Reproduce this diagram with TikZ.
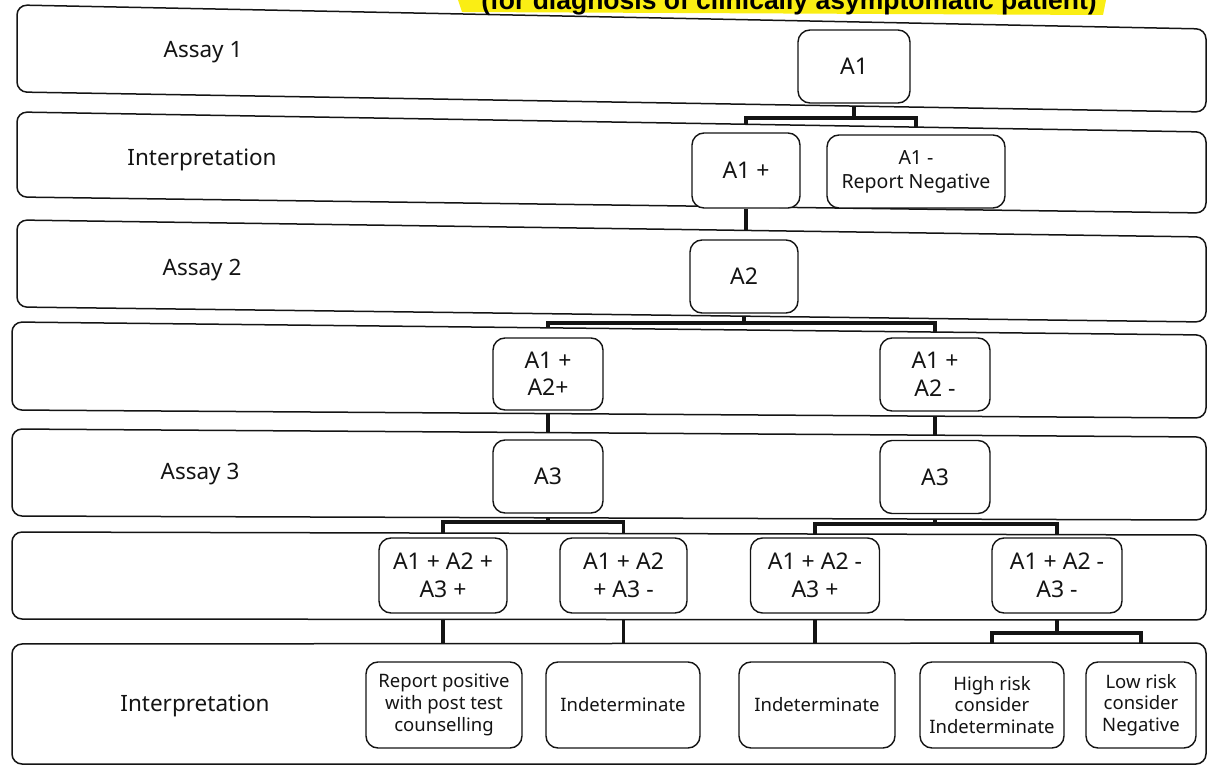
\documentclass[tikz,border=0pt]{standalone}
\usepackage{fontspec}
\setmainfont{Noto Sans}
\newfontfamily\hdrfont{Liberation Sans}
\pgfdeclarelayer{connlayer}
\pgfdeclarelayer{lanelayer}
\pgfsetlayers{connlayer,lanelayer,main}
\definecolor{hlyellow}{RGB}{250,238,20}
\definecolor{ink}{RGB}{20,20,20}
\begin{document}
\begin{tikzpicture}[x=1pt,y=-1pt,
  lane/.style={draw=ink, line width=1.5pt, rounded corners=10pt, fill=white},
  lanelabel/.style={font=\fontsize{22.5}{27}\selectfont, text=ink},
  box/.style={draw=ink, line width=1.4pt, rounded corners=12pt, fill=white, align=center,
    inner sep=0pt, text=ink, font=\fontsize{23}{27.5}\selectfont},
  smallbox/.style={box, font=\fontsize{18.5}{21.7}\selectfont},
  link/.style={draw=ink, line width=3.6pt, line join=miter}
]
\useasboundingbox (0,0) rectangle (1208,767);

% header (cut off at the top of the picture)
\fill[hlyellow] (458,0) -- (1106,0) -- (1103,15) -- (462,12) -- cycle;
\node[anchor=base east, inner sep=0pt, font=\hdrfont\fontsize{26.5}{30}\selectfont\bfseries] (title) at (1097,10)
  {(for diagnosis of clinically asymptomatic patient)};

% swim lanes
\begin{pgfonlayer}{lanelayer}
\draw[lane] (17,5) -- (1206,29) -- (1206,112) -- (17,92) -- cycle;
\draw[lane] (17,112) -- (1206,132) -- (1206,213) -- (17,197) -- cycle;
\draw[lane] (17,220) -- (1206,237) -- (1206,322) -- (17,307) -- cycle;
\draw[lane] (12,322) -- (1206,335) -- (1206,418) -- (12,410) -- cycle;
\draw[lane] (12,429) -- (1206,437) -- (1206,520) -- (12,516) -- cycle;
\draw[lane] (12,532) -- (1206,535) -- (1206,620) -- (12,619) -- cycle;
\draw[lane] (12,644) -- (1206,643) -- (1206,764) -- (12,764) -- cycle;
\end{pgfonlayer}

% lane labels
\node[lanelabel] (lab1) at (203,52) {Assay 1};
\node[lanelabel] (lab2) at (202,160) {Interpretation};
\node[lanelabel] (lab3) at (202,270) {Assay 2};
\node[lanelabel] (lab5) at (200,474) {Assay 3};
\node[lanelabel] (lab7) at (195,706) {Interpretation};

% boxes
\node[box, minimum width=112, minimum height=73] (A1) at (854,66.5) {A1};
\node[box, minimum width=108, minimum height=75] (A1p) at (746,170.5) {A1 +};
\node[box, font=\fontsize{19.5}{24}\selectfont, minimum width=178, minimum height=73] (A1n) at (916,171.5) {A1 -\\Report Negative};
\node[box, minimum width=108, minimum height=73] (A2) at (744,276.5) {A2};
\node[box, minimum width=110, minimum height=72] (A12pp) at (548,374) {A1 +\\A2+};
\node[box, minimum width=110, minimum height=73] (A12pm) at (935,374.5) {A1 +\\A2 -};
\node[box, minimum width=110, minimum height=73] (A3L) at (548,476.5) {A3};
\node[box, minimum width=110, minimum height=73] (A3R) at (935,477) {A3};

\node[box, minimum width=128, minimum height=75] (R1) at (443,575.5) {A1 + A2 +\\A3 +};
\node[box, minimum width=127, minimum height=75] (R2) at (623.5,575.5) {A1 + A2\\+ A3 -};
\node[box, minimum width=129, minimum height=75] (R3) at (815,575.5) {A1 + A2 -\\A3 +};
\node[box, minimum width=130, minimum height=75] (R4) at (1057,575.5) {A1 + A2 -\\A3 -};

\node[smallbox, minimum width=156, minimum height=86] (B1) at (444,705) {Report positive\\with post test\\counselling};
\node[smallbox, minimum width=154, minimum height=86] (B2) at (623,705) {Indeterminate};
\node[smallbox, minimum width=156, minimum height=86] (B3) at (817,705) {Indeterminate};
\node[smallbox, minimum width=144, minimum height=86] (B4) at (992,705) {High risk\\consider\\Indeterminate};
\node[smallbox, minimum width=110, minimum height=86] (B5) at (1141,705) {Low risk\\consider\\Negative};

% connectors (behind the lanes)
\begin{pgfonlayer}{connlayer}
\draw[link] (A1.south) -- (A1.south |- 0,118) -| (A1p.north);
\draw[link] (A1.south) -- (A1.south |- 0,118) -| (A1n.north);
\draw[link] (A1p.south) -- (A1p.south |- A2.north);
\draw[link] (A2.south) -- (A2.south |- 0,323) -| (A12pp.north);
\draw[link] (A2.south) -- (A2.south |- 0,323) -| (A12pm.north);
\draw[link] (A12pp.south) -- (A12pp.south |- A3L.north);
\draw[link] (A12pm.south) -- (A12pm.south |- A3R.north);
\draw[link] (A3L.south) -- (A3L.south |- 0,522) -| (R1.north);
\draw[link] (A3L.south) -- (A3L.south |- 0,522) -| (R2.north);
\draw[link] (A3R.south) -- (A3R.south |- 0,524) -| (R3.north);
\draw[link] (A3R.south) -- (A3R.south |- 0,524) -| (R4.north);
\draw[link] (R1.south) -- (R1.south |- B1.north);
\draw[link] (R2.south) -- (R2.south |- B2.north);
\draw[link] (R3.south) -- (R3.south |- B3.north);
\draw[link] (R4.south) -- (R4.south |- 0,633) -| (B4.north);
\draw[link] (R4.south) -- (R4.south |- 0,633) -| (B5.north);
\end{pgfonlayer}
\end{tikzpicture}
\end{document}
